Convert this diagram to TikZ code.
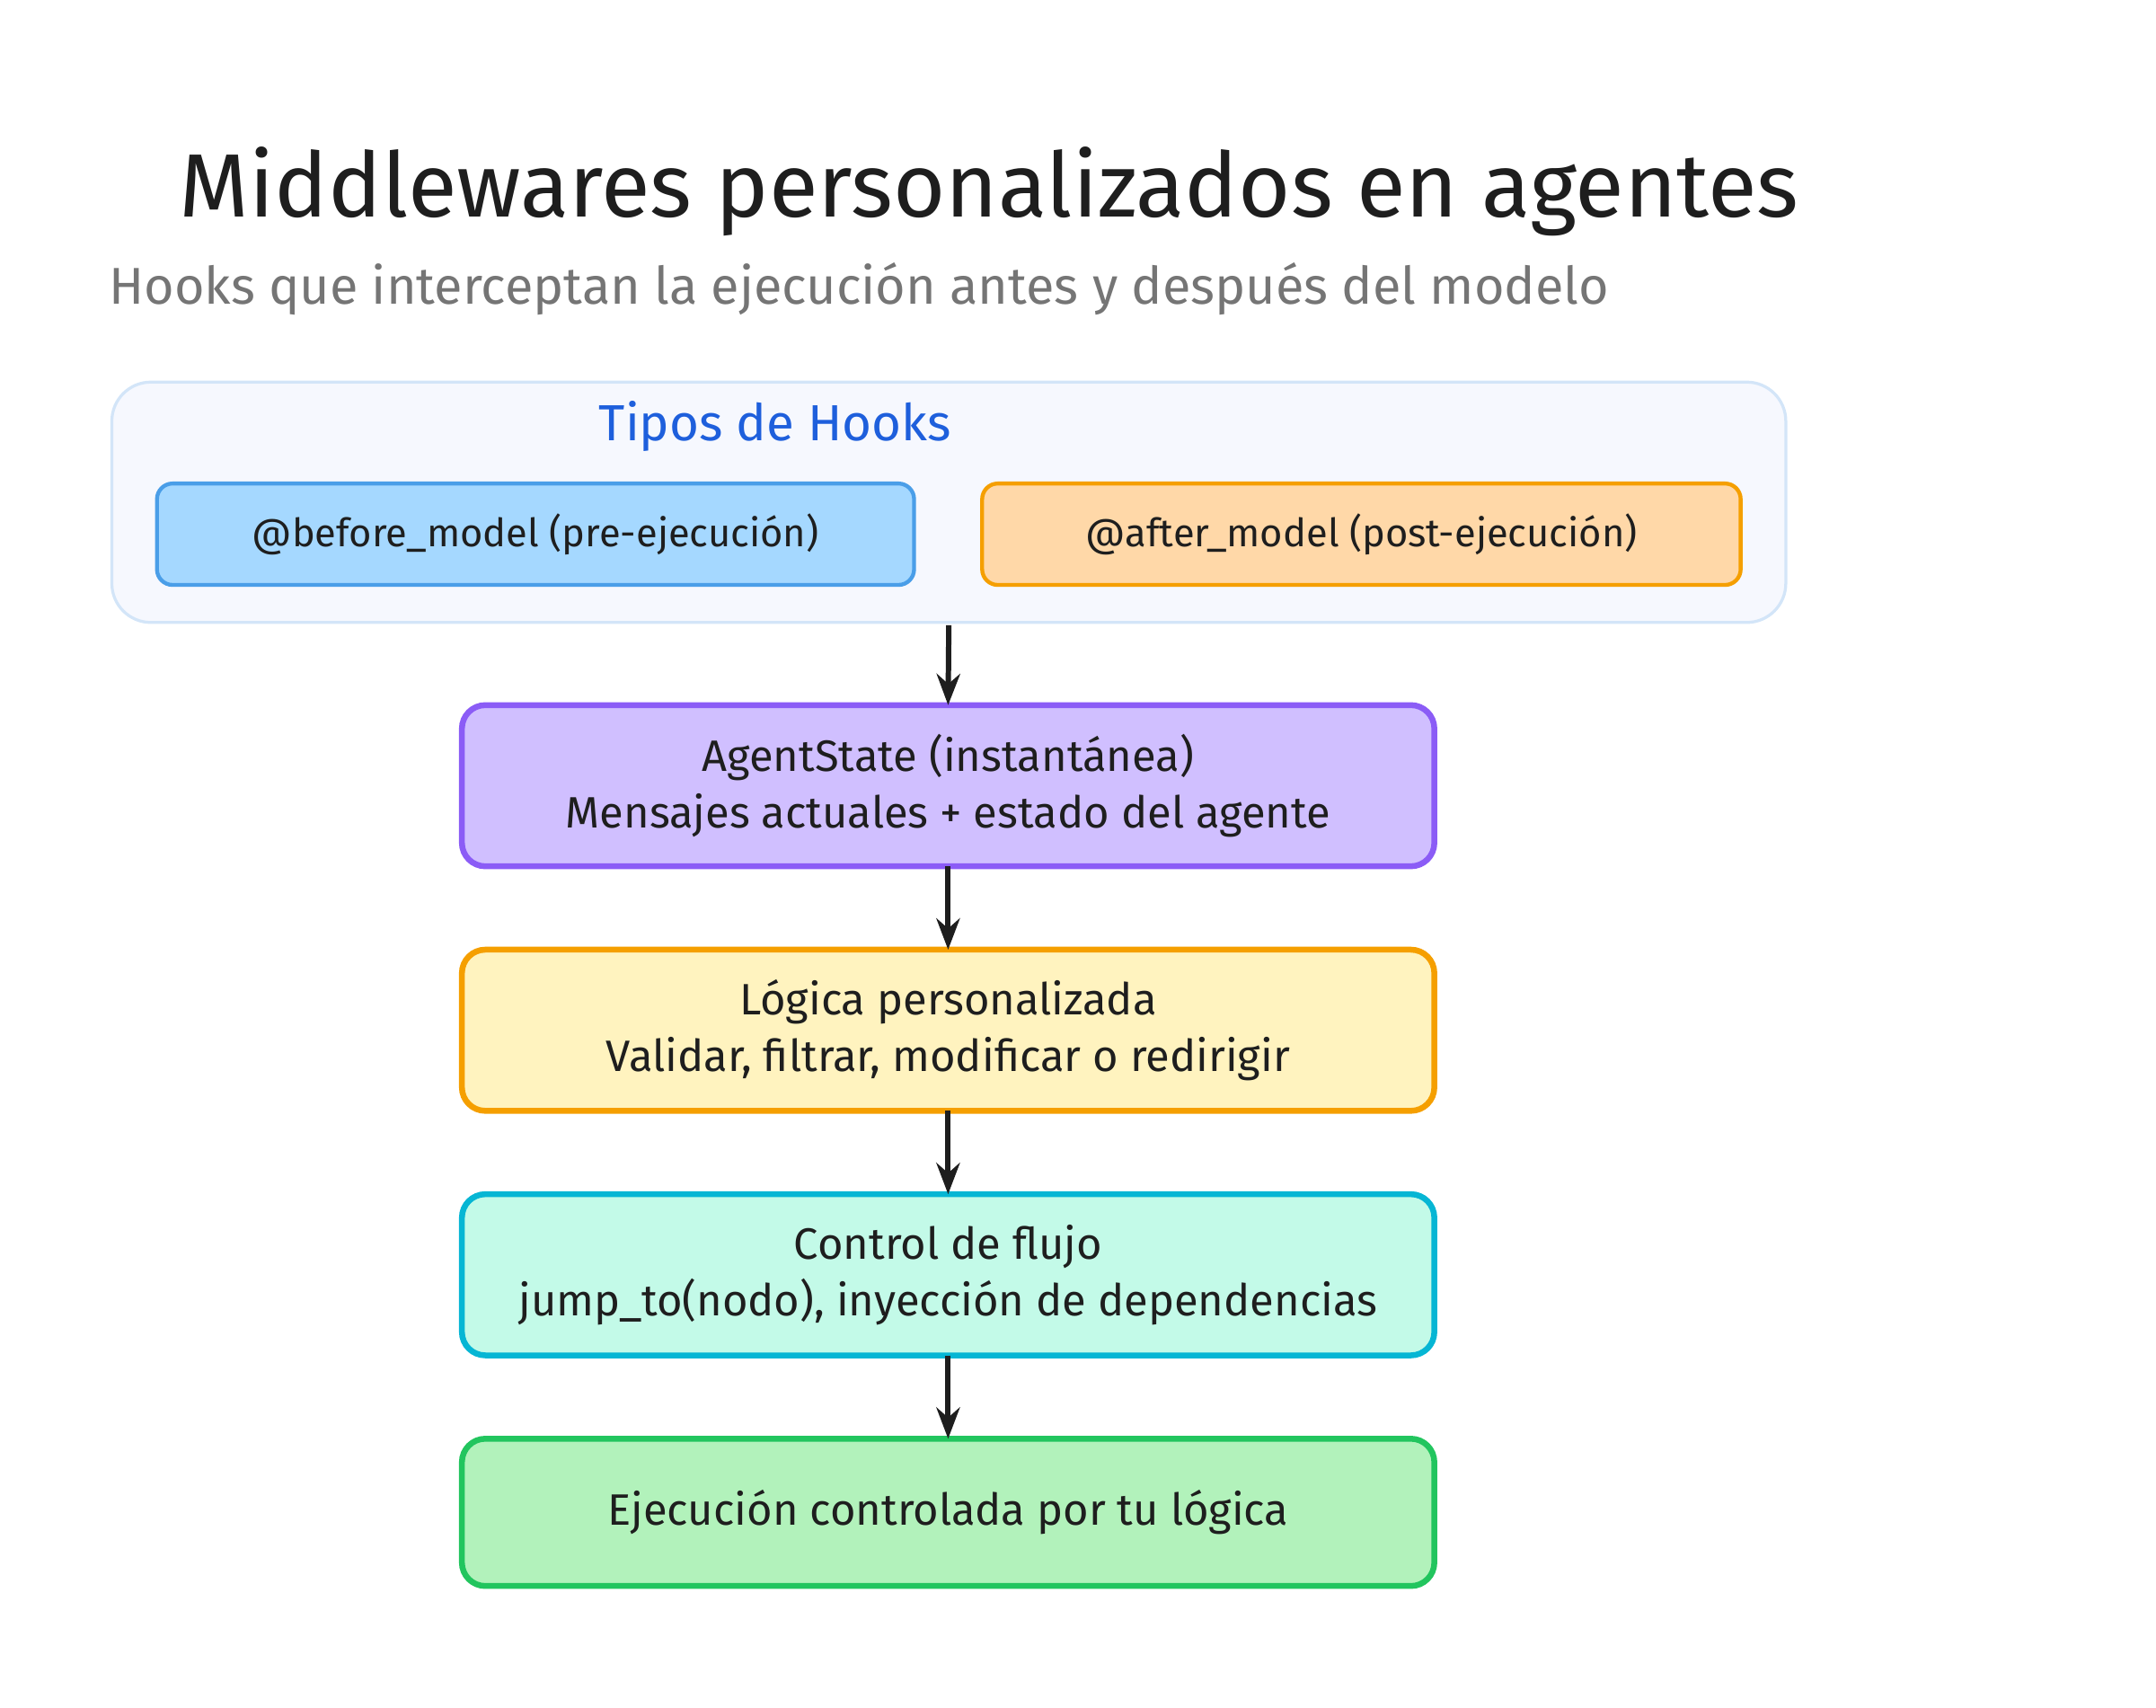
\documentclass[tikz,border=0pt]{standalone}
\usepackage{fontspec}
\setmainfont{Fira Sans}
\usetikzlibrary{arrows.meta}
\definecolor{txt}{HTML}{1E1E1E}
\definecolor{sub}{HTML}{757575}
\definecolor{grpF}{HTML}{F6F8FE}\definecolor{grpD}{HTML}{D3E5F8}
\definecolor{blueF}{HTML}{A5D8FF}\definecolor{blueD}{HTML}{4A9EE8}
\definecolor{oraF}{HTML}{FFD8A8}\definecolor{oraD}{HTML}{F59F00}
\definecolor{purF}{HTML}{D0BFFF}\definecolor{purD}{HTML}{8B5CF6}
\definecolor{yelF}{HTML}{FFF3BF}
\definecolor{cyaF}{HTML}{C3FAE8}\definecolor{cyaD}{HTML}{06B6D4}
\definecolor{greF}{HTML}{B2F2BB}\definecolor{greD}{HTML}{22C55E}
\definecolor{hookT}{HTML}{1E5FDC}
\tikzset{
 box/.style={draw, rounded corners=24pt, line width=6pt, text=txt, align=center,
   font=\fontsize{45}{58}\selectfont, inner sep=0pt, outer sep=0pt},
 arr/.style={-{Stealth[length=32pt,width=24pt]}, line width=5.5pt, draw=txt}
}
\begin{document}
\begin{tikzpicture}[x=0.05cm,y=-0.05cm]
\useasboundingbox (0,0) rectangle (1552,1229);
\node[text=txt,font=\fontsize{92}{100}\selectfont] (title) at (712,138) {Middlewares personalizados en agentes};
\node[text=sub,font=\fontsize{53}{60}\selectfont,anchor=west] (subt) at (76,208) {Hooks que interceptan la ejecución antes y después del modelo};
\node[box,draw=grpD,fill=grpF,line width=3pt,rounded corners=40pt,minimum width=1205*0.05cm,minimum height=173*0.05cm] (grp) at (683,361.5) {};
\node[text=hookT,font=\fontsize{52}{60}\selectfont] (tipos) at (558,307) {Tipos de Hooks};
\node[box,draw=blueD,fill=blueF,line width=4pt,rounded corners=16pt,minimum width=545*0.05cm,minimum height=73*0.05cm,font=\fontsize{40}{50}\selectfont] (before) at (385.5,384.5) {@before\_model (pre-ejecución)};
\node[box,draw=oraD,fill=oraF,line width=4pt,rounded corners=16pt,minimum width=546*0.05cm,minimum height=73*0.05cm,font=\fontsize{40}{50}\selectfont] (after) at (980,384.5) {@after\_model (post-ejecución)};
\coordinate (gbot) at (683,450);
\node[box,draw=purD,fill=purF,minimum width=700*0.05cm,minimum height=116*0.05cm] (state) at (682.5,565.5) {AgentState (instantánea)\\Mensajes actuales + estado del agente};
\node[box,draw=oraD,fill=yelF,minimum width=700*0.05cm,minimum height=116*0.05cm] (logic) at (682.5,741.5) {Lógica personalizada\\Validar, filtrar, modificar o redirigir};
\node[box,draw=cyaD,fill=cyaF,minimum width=700*0.05cm,minimum height=116*0.05cm] (ctrl) at (682.5,917.5) {Control de flujo\\jump\_to(nodo), inyección de dependencias};
\node[box,draw=greD,fill=greF,minimum width=700*0.05cm,minimum height=106*0.05cm] (exec) at (682.5,1088.5) {Ejecución controlada por tu lógica};
\draw[arr] (gbot) -- (state.north);
\draw[arr] (state) -- (logic);
\draw[arr] (logic) -- (ctrl);
\draw[arr] (ctrl) -- (exec);
\end{tikzpicture}
\end{document}
